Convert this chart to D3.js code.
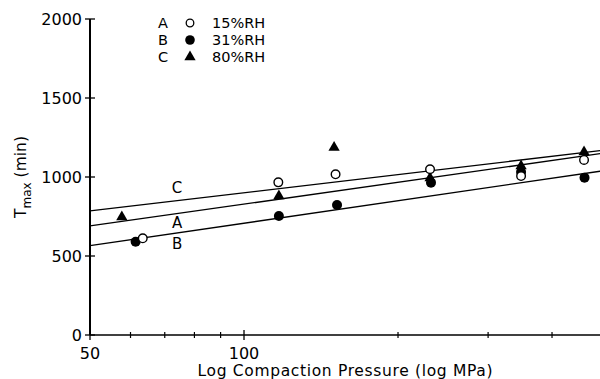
<!DOCTYPE html>
<html>
<head>
<meta charset="utf-8">
<script src="https://cdn.jsdelivr.net/npm/d3@7"></script>
<style>
  body { margin: 0; background: #fff; }
  svg { display: block; font-family: "DejaVu Sans", "Liberation Sans", sans-serif; }
</style>
</head>
<body>
<div class="chart"></div>
<script>
// compaction pressure (MPa) for each measurement
const pressureA = [63.4, 116.7, 151, 231, 348, 462];
const pressureB = [61.4, 117, 152, 232, 348, 463];
const pressureC = [57.7, 117, 150, 231, 348, 462];

// Tmax (min)
const tmaxA = [612, 966, 1017, 1049, 1006, 1108];
const tmaxB = [590, 753, 823, 964, 1032, 996];
const tmaxC = [747, 880, 1187, 994, 1070, 1158];

// fitted lines, value at the two ends of the pressure axis
const fitEnds = [50, 500];
const fitA = [690, 1149];
const fitB = [565, 1038];
const fitC = [785, 1168];

const yTicks = [0, 500, 1000, 1500, 2000];
const xMajor = [50, 100, 500];
const xLabels = [50, 100];
const xMinor = [60, 70, 80, 90, 200, 300, 400];

const legendRows = [
  { key: "A", mark: "open", text: "15%RH" },
  { key: "B", mark: "filled", text: "31%RH" },
  { key: "C", mark: "triangle", text: "80%RH" }
];

init();

function init() {
  const width = 600,
    height = 379;

  const x = d3.scaleLog().domain([50, 500]).range([90, 601.6]);
  const y = d3.scaleLinear().domain([0, 2000]).range([335, 19]);

  const svg = d3
    .select(".chart")
    .append("svg")
    .attr("width", width)
    .attr("height", height)
    .attr("fill", "#000");

  // axes
  svg
    .append("line")
    .attr("x1", x(50))
    .attr("x2", x(50))
    .attr("y1", y(0))
    .attr("y2", y(2000))
    .attr("stroke", "#000")
    .attr("stroke-width", 2);
  svg
    .append("line")
    .attr("x1", x(50))
    .attr("x2", width)
    .attr("y1", y(0))
    .attr("y2", y(0))
    .attr("stroke", "#000")
    .attr("stroke-width", 1.5);

  // y ticks + labels
  const yt = svg.append("g").selectAll("g").data(yTicks).join("g");
  yt.append("line")
    .attr("x1", x(50) - 5)
    .attr("x2", x(50) + 5)
    .attr("y1", d => y(d))
    .attr("y2", d => y(d))
    .attr("stroke", "#000")
    .attr("stroke-width", 1.3);
  yt.append("text")
    .attr("x", x(50) - 8)
    .attr("y", d => y(d))
    .attr("dy", "0.36em")
    .attr("text-anchor", "end")
    .attr("font-size", 16)
    .text(d => d);

  // x ticks
  svg
    .append("g")
    .selectAll("line")
    .data(xMajor)
    .join("line")
    .attr("x1", d => x(d))
    .attr("x2", d => x(d))
    .attr("y1", y(0) - 5)
    .attr("y2", y(0) + 5)
    .attr("stroke", "#000")
    .attr("stroke-width", 1.3);
  svg
    .append("g")
    .selectAll("line")
    .data(xMinor)
    .join("line")
    .attr("x1", d => x(d))
    .attr("x2", d => x(d))
    .attr("y1", y(0) - 3)
    .attr("y2", y(0) + 3)
    .attr("stroke", "#000")
    .attr("stroke-width", 1.2);
  svg
    .append("g")
    .selectAll("text")
    .data(xLabels)
    .join("text")
    .attr("x", d => x(d))
    .attr("y", 359)
    .attr("text-anchor", "middle")
    .attr("font-size", 16)
    .text(d => d);

  // axis titles
  svg
    .append("text")
    .attr("x", 345)
    .attr("y", 376)
    .attr("text-anchor", "middle")
    .attr("font-size", 15.5)
    .attr("textLength", 295)
    .text("Log Compaction Pressure (log MPa)");

  const yl = svg
    .append("text")
    .attr("transform", "translate(26,177) rotate(-90)")
    .attr("text-anchor", "middle")
    .attr("font-size", 15.5);
  yl.append("tspan").text("T");
  yl.append("tspan").attr("font-size", 12).attr("dy", 5).text("max");
  yl.append("tspan").attr("dy", -5).text(" (min)");

  // fitted lines
  const fits = [
    { key: "A", v: fitA },
    { key: "B", v: fitB },
    { key: "C", v: fitC }
  ];
  svg
    .append("g")
    .selectAll("line")
    .data(fits)
    .join("line")
    .attr("x1", x(fitEnds[0]))
    .attr("x2", x(fitEnds[1]))
    .attr("y1", d => y(d.v[0]))
    .attr("y2", d => y(d.v[1]))
    .attr("stroke", "#000")
    .attr("stroke-width", 1.3);

  // line labels
  const lineLabels = [
    { key: "C", px: 74, tv: 935 },
    { key: "A", px: 74, tv: 710 },
    { key: "B", px: 74, tv: 580 }
  ];
  svg
    .append("g")
    .selectAll("text")
    .data(lineLabels)
    .join("text")
    .attr("x", d => x(d.px))
    .attr("y", d => y(d.tv))
    .attr("dy", "0.36em")
    .attr("text-anchor", "middle")
    .attr("font-size", 15)
    .text(d => d.key);

  const tri = d3.symbol().type(d3.symbolTriangle).size(55);

  // points
  svg
    .append("g")
    .selectAll("path")
    .data(pressureC.map((p, i) => [p, tmaxC[i]]))
    .join("path")
    .attr("transform", d => `translate(${x(d[0])},${y(d[1])})`)
    .attr("d", tri)
    .attr("fill", "#000");
  svg
    .append("g")
    .selectAll("circle")
    .data(pressureB.map((p, i) => [p, tmaxB[i]]))
    .join("circle")
    .attr("cx", d => x(d[0]))
    .attr("cy", d => y(d[1]))
    .attr("r", 5)
    .attr("fill", "#000");
  svg
    .append("g")
    .selectAll("circle")
    .data(pressureA.map((p, i) => [p, tmaxA[i]]))
    .join("circle")
    .attr("cx", d => x(d[0]))
    .attr("cy", d => y(d[1]))
    .attr("r", 4.3)
    .attr("fill", "#fff")
    .attr("stroke", "#000")
    .attr("stroke-width", 1.4);

  // legend
  const lg = svg
    .append("g")
    .selectAll("g")
    .data(legendRows)
    .join("g")
    .attr("transform", (d, i) => `translate(0,${23 + i * 17})`);
  lg.append("text")
    .attr("x", 163)
    .attr("dy", "0.36em")
    .attr("text-anchor", "middle")
    .attr("font-size", 14.5)
    .text(d => d.key);
  lg.append("text")
    .attr("x", 212)
    .attr("dy", "0.36em")
    .attr("font-size", 14.5)
    .text(d => d.text);
  lg.filter(d => d.mark === "open")
    .append("circle")
    .attr("cx", 190)
    .attr("r", 3.8)
    .attr("fill", "#fff")
    .attr("stroke", "#000")
    .attr("stroke-width", 1.3);
  lg.filter(d => d.mark === "filled")
    .append("circle")
    .attr("cx", 190)
    .attr("r", 4.8)
    .attr("fill", "#000");
  lg.filter(d => d.mark === "triangle")
    .append("path")
    .attr("transform", "translate(190,0)")
    .attr("d", tri)
    .attr("fill", "#000");
}
</script>
</body>
</html>
